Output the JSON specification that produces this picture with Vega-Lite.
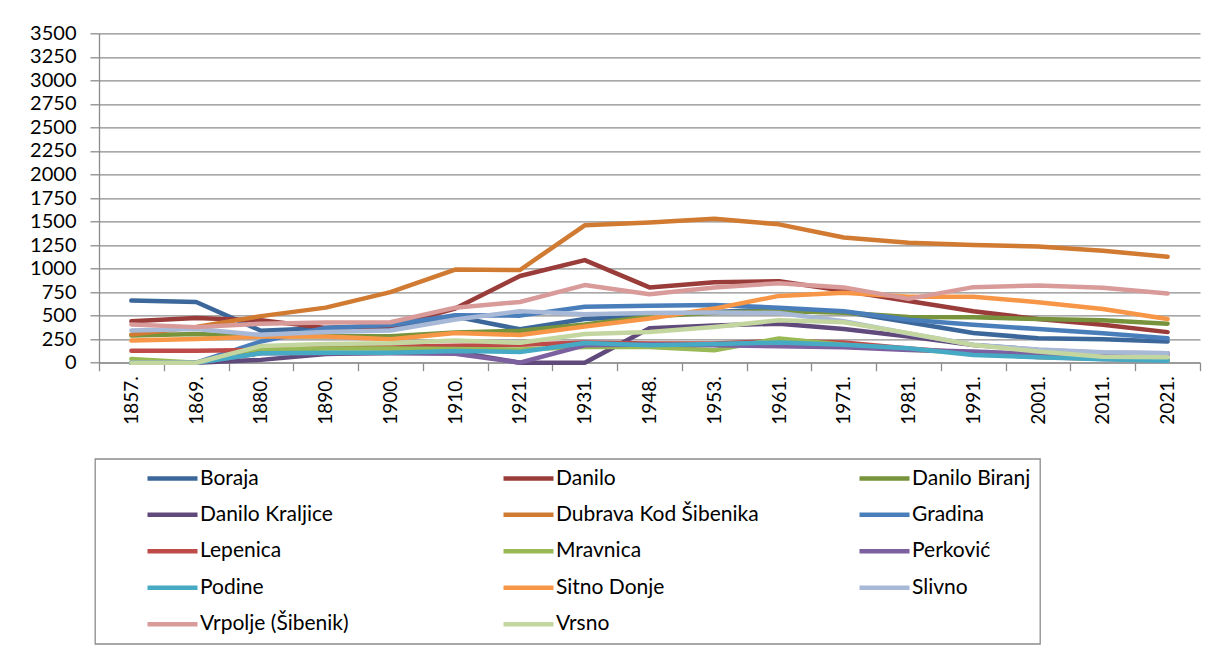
{
  "$schema": "https://vega.github.io/schema/vega-lite/v6.json",
  "width": 1101,
  "height": 329.4,
  "autosize": {"type": "none"},
  "padding": {"left": 99, "top": 33.3, "right": 24, "bottom": 285.3},
  "background": "white",
  "config": {"view": {"stroke": null}, "font": "Lato", "legend": {"strokeWidth": 1.3}},
  "datasets": {
    "pop": [
      {"s":"Boraja","t":"1857.","v":660},{"s":"Boraja","t":"1869.","v":645},{"s":"Boraja","t":"1880.","v":340},{"s":"Boraja","t":"1890.","v":370},{"s":"Boraja","t":"1900.","v":385},{"s":"Boraja","t":"1910.","v":490},{"s":"Boraja","t":"1921.","v":355},{"s":"Boraja","t":"1931.","v":465},{"s":"Boraja","t":"1948.","v":495},{"s":"Boraja","t":"1953.","v":540},{"s":"Boraja","t":"1961.","v":565},{"s":"Boraja","t":"1971.","v":540},{"s":"Boraja","t":"1981.","v":430},{"s":"Boraja","t":"1991.","v":315},{"s":"Boraja","t":"2001.","v":260},{"s":"Boraja","t":"2011.","v":250},{"s":"Boraja","t":"2021.","v":225},
      {"s":"Danilo","t":"1857.","v":440},{"s":"Danilo","t":"1869.","v":475},{"s":"Danilo","t":"1880.","v":450},{"s":"Danilo","t":"1890.","v":370},{"s":"Danilo","t":"1900.","v":390},{"s":"Danilo","t":"1910.","v":575},{"s":"Danilo","t":"1921.","v":921},{"s":"Danilo","t":"1931.","v":1090},{"s":"Danilo","t":"1948.","v":800},{"s":"Danilo","t":"1953.","v":855},{"s":"Danilo","t":"1961.","v":865},{"s":"Danilo","t":"1971.","v":765},{"s":"Danilo","t":"1981.","v":655},{"s":"Danilo","t":"1991.","v":546},{"s":"Danilo","t":"2001.","v":464},{"s":"Danilo","t":"2011.","v":403},{"s":"Danilo","t":"2021.","v":325},
      {"s":"Danilo Biranj","t":"1857.","v":290},{"s":"Danilo Biranj","t":"1869.","v":305},{"s":"Danilo Biranj","t":"1880.","v":280},{"s":"Danilo Biranj","t":"1890.","v":280},{"s":"Danilo Biranj","t":"1900.","v":280},{"s":"Danilo Biranj","t":"1910.","v":320},{"s":"Danilo Biranj","t":"1921.","v":340},{"s":"Danilo Biranj","t":"1931.","v":405},{"s":"Danilo Biranj","t":"1948.","v":490},{"s":"Danilo Biranj","t":"1953.","v":530},{"s":"Danilo Biranj","t":"1961.","v":550},{"s":"Danilo Biranj","t":"1971.","v":530},{"s":"Danilo Biranj","t":"1981.","v":486},{"s":"Danilo Biranj","t":"1991.","v":482},{"s":"Danilo Biranj","t":"2001.","v":464},{"s":"Danilo Biranj","t":"2011.","v":450},{"s":"Danilo Biranj","t":"2021.","v":414},
      {"s":"Danilo Kraljice","t":"1857.","v":0},{"s":"Danilo Kraljice","t":"1869.","v":0},{"s":"Danilo Kraljice","t":"1880.","v":30},{"s":"Danilo Kraljice","t":"1890.","v":93},{"s":"Danilo Kraljice","t":"1900.","v":107},{"s":"Danilo Kraljice","t":"1910.","v":118},{"s":"Danilo Kraljice","t":"1921.","v":0},{"s":"Danilo Kraljice","t":"1931.","v":0},{"s":"Danilo Kraljice","t":"1948.","v":365},{"s":"Danilo Kraljice","t":"1953.","v":395},{"s":"Danilo Kraljice","t":"1961.","v":415},{"s":"Danilo Kraljice","t":"1971.","v":357},{"s":"Danilo Kraljice","t":"1981.","v":278},{"s":"Danilo Kraljice","t":"1991.","v":189},{"s":"Danilo Kraljice","t":"2001.","v":136},{"s":"Danilo Kraljice","t":"2011.","v":107},{"s":"Danilo Kraljice","t":"2021.","v":100},
      {"s":"Dubrava Kod Šibenika","t":"1857.","v":300},{"s":"Dubrava Kod Šibenika","t":"1869.","v":380},{"s":"Dubrava Kod Šibenika","t":"1880.","v":495},{"s":"Dubrava Kod Šibenika","t":"1890.","v":585},{"s":"Dubrava Kod Šibenika","t":"1900.","v":750},{"s":"Dubrava Kod Šibenika","t":"1910.","v":990},{"s":"Dubrava Kod Šibenika","t":"1921.","v":985},{"s":"Dubrava Kod Šibenika","t":"1931.","v":1460},{"s":"Dubrava Kod Šibenika","t":"1948.","v":1490},{"s":"Dubrava Kod Šibenika","t":"1953.","v":1530},{"s":"Dubrava Kod Šibenika","t":"1961.","v":1470},{"s":"Dubrava Kod Šibenika","t":"1971.","v":1330},{"s":"Dubrava Kod Šibenika","t":"1981.","v":1275},{"s":"Dubrava Kod Šibenika","t":"1991.","v":1250},{"s":"Dubrava Kod Šibenika","t":"2001.","v":1235},{"s":"Dubrava Kod Šibenika","t":"2011.","v":1190},{"s":"Dubrava Kod Šibenika","t":"2021.","v":1125},
      {"s":"Gradina","t":"1857.","v":0},{"s":"Gradina","t":"1869.","v":0},{"s":"Gradina","t":"1880.","v":225},{"s":"Gradina","t":"1890.","v":370},{"s":"Gradina","t":"1900.","v":400},{"s":"Gradina","t":"1910.","v":505},{"s":"Gradina","t":"1921.","v":500},{"s":"Gradina","t":"1931.","v":595},{"s":"Gradina","t":"1948.","v":605},{"s":"Gradina","t":"1953.","v":612},{"s":"Gradina","t":"1961.","v":585},{"s":"Gradina","t":"1971.","v":546},{"s":"Gradina","t":"1981.","v":457},{"s":"Gradina","t":"1991.","v":403},{"s":"Gradina","t":"2001.","v":357},{"s":"Gradina","t":"2011.","v":314},{"s":"Gradina","t":"2021.","v":261},
      {"s":"Lepenica","t":"1857.","v":128},{"s":"Lepenica","t":"1869.","v":128},{"s":"Lepenica","t":"1880.","v":136},{"s":"Lepenica","t":"1890.","v":164},{"s":"Lepenica","t":"1900.","v":170},{"s":"Lepenica","t":"1910.","v":180},{"s":"Lepenica","t":"1921.","v":190},{"s":"Lepenica","t":"1931.","v":215},{"s":"Lepenica","t":"1948.","v":205},{"s":"Lepenica","t":"1953.","v":205},{"s":"Lepenica","t":"1961.","v":230},{"s":"Lepenica","t":"1971.","v":215},{"s":"Lepenica","t":"1981.","v":150},{"s":"Lepenica","t":"1991.","v":100},{"s":"Lepenica","t":"2001.","v":60},{"s":"Lepenica","t":"2011.","v":40},{"s":"Lepenica","t":"2021.","v":30},
      {"s":"Mravnica","t":"1857.","v":40},{"s":"Mravnica","t":"1869.","v":0},{"s":"Mravnica","t":"1880.","v":136},{"s":"Mravnica","t":"1890.","v":150},{"s":"Mravnica","t":"1900.","v":150},{"s":"Mravnica","t":"1910.","v":145},{"s":"Mravnica","t":"1921.","v":139},{"s":"Mravnica","t":"1931.","v":168},{"s":"Mravnica","t":"1948.","v":168},{"s":"Mravnica","t":"1953.","v":132},{"s":"Mravnica","t":"1961.","v":257},{"s":"Mravnica","t":"1971.","v":190},{"s":"Mravnica","t":"1981.","v":140},{"s":"Mravnica","t":"1991.","v":100},{"s":"Mravnica","t":"2001.","v":60},{"s":"Mravnica","t":"2011.","v":45},{"s":"Mravnica","t":"2021.","v":35},
      {"s":"Perković","t":"1857.","v":0},{"s":"Perković","t":"1869.","v":0},{"s":"Perković","t":"1880.","v":100},{"s":"Perković","t":"1890.","v":100},{"s":"Perković","t":"1900.","v":100},{"s":"Perković","t":"1910.","v":96},{"s":"Perković","t":"1921.","v":0},{"s":"Perković","t":"1931.","v":185},{"s":"Perković","t":"1948.","v":193},{"s":"Perković","t":"1953.","v":186},{"s":"Perković","t":"1961.","v":175},{"s":"Perković","t":"1971.","v":164},{"s":"Perković","t":"1981.","v":136},{"s":"Perković","t":"1991.","v":118},{"s":"Perković","t":"2001.","v":93},{"s":"Perković","t":"2011.","v":85},{"s":"Perković","t":"2021.","v":85},
      {"s":"Podine","t":"1857.","v":0},{"s":"Podine","t":"1869.","v":0},{"s":"Podine","t":"1880.","v":100},{"s":"Podine","t":"1890.","v":107},{"s":"Podine","t":"1900.","v":107},{"s":"Podine","t":"1910.","v":125},{"s":"Podine","t":"1921.","v":114},{"s":"Podine","t":"1931.","v":210},{"s":"Podine","t":"1948.","v":186},{"s":"Podine","t":"1953.","v":200},{"s":"Podine","t":"1961.","v":214},{"s":"Podine","t":"1971.","v":190},{"s":"Podine","t":"1981.","v":154},{"s":"Podine","t":"1991.","v":82},{"s":"Podine","t":"2001.","v":57},{"s":"Podine","t":"2011.","v":36},{"s":"Podine","t":"2021.","v":21},
      {"s":"Sitno Donje","t":"1857.","v":236},{"s":"Sitno Donje","t":"1869.","v":253},{"s":"Sitno Donje","t":"1880.","v":278},{"s":"Sitno Donje","t":"1890.","v":278},{"s":"Sitno Donje","t":"1900.","v":250},{"s":"Sitno Donje","t":"1910.","v":315},{"s":"Sitno Donje","t":"1921.","v":295},{"s":"Sitno Donje","t":"1931.","v":385},{"s":"Sitno Donje","t":"1948.","v":470},{"s":"Sitno Donje","t":"1953.","v":575},{"s":"Sitno Donje","t":"1961.","v":710},{"s":"Sitno Donje","t":"1971.","v":743},{"s":"Sitno Donje","t":"1981.","v":700},{"s":"Sitno Donje","t":"1991.","v":700},{"s":"Sitno Donje","t":"2001.","v":643},{"s":"Sitno Donje","t":"2011.","v":571},{"s":"Sitno Donje","t":"2021.","v":464},
      {"s":"Slivno","t":"1857.","v":343},{"s":"Slivno","t":"1869.","v":357},{"s":"Slivno","t":"1880.","v":296},{"s":"Slivno","t":"1890.","v":325},{"s":"Slivno","t":"1900.","v":343},{"s":"Slivno","t":"1910.","v":460},{"s":"Slivno","t":"1921.","v":548},{"s":"Slivno","t":"1931.","v":515},{"s":"Slivno","t":"1948.","v":528},{"s":"Slivno","t":"1953.","v":534},{"s":"Slivno","t":"1961.","v":528},{"s":"Slivno","t":"1971.","v":440},{"s":"Slivno","t":"1981.","v":310},{"s":"Slivno","t":"1991.","v":190},{"s":"Slivno","t":"2001.","v":140},{"s":"Slivno","t":"2011.","v":110},{"s":"Slivno","t":"2021.","v":100},
      {"s":"Vrpolje (Šibenik)","t":"1857.","v":407},{"s":"Vrpolje (Šibenik)","t":"1869.","v":378},{"s":"Vrpolje (Šibenik)","t":"1880.","v":414},{"s":"Vrpolje (Šibenik)","t":"1890.","v":428},{"s":"Vrpolje (Šibenik)","t":"1900.","v":430},{"s":"Vrpolje (Šibenik)","t":"1910.","v":585},{"s":"Vrpolje (Šibenik)","t":"1921.","v":645},{"s":"Vrpolje (Šibenik)","t":"1931.","v":825},{"s":"Vrpolje (Šibenik)","t":"1948.","v":728},{"s":"Vrpolje (Šibenik)","t":"1953.","v":800},{"s":"Vrpolje (Šibenik)","t":"1961.","v":845},{"s":"Vrpolje (Šibenik)","t":"1971.","v":800},{"s":"Vrpolje (Šibenik)","t":"1981.","v":678},{"s":"Vrpolje (Šibenik)","t":"1991.","v":803},{"s":"Vrpolje (Šibenik)","t":"2001.","v":821},{"s":"Vrpolje (Šibenik)","t":"2011.","v":796},{"s":"Vrpolje (Šibenik)","t":"2021.","v":735},
      {"s":"Vrsno","t":"1857.","v":0},{"s":"Vrsno","t":"1869.","v":0},{"s":"Vrsno","t":"1880.","v":178},{"s":"Vrsno","t":"1890.","v":200},{"s":"Vrsno","t":"1900.","v":207},{"s":"Vrsno","t":"1910.","v":236},{"s":"Vrsno","t":"1921.","v":211},{"s":"Vrsno","t":"1931.","v":305},{"s":"Vrsno","t":"1948.","v":325},{"s":"Vrsno","t":"1953.","v":380},{"s":"Vrsno","t":"1961.","v":450},{"s":"Vrsno","t":"1971.","v":430},{"s":"Vrsno","t":"1981.","v":314},{"s":"Vrsno","t":"1991.","v":189},{"s":"Vrsno","t":"2001.","v":118},{"s":"Vrsno","t":"2011.","v":64},{"s":"Vrsno","t":"2021.","v":57}
    ]
  },
  "data": {"name": "pop"},
  "mark": {"type": "line", "strokeWidth": 4.5, "strokeCap": "round", "strokeJoin": "round"},
  "encoding": {
    "x": {
      "field": "t", "type": "ordinal", "sort": null,
      "scale": {"type": "band", "paddingInner": 0, "paddingOuter": 0},
      "axis": {"title": null, "labelAngle": -90, "labelAlign": "right", "labelBaseline": "middle", "tickBand": "extent", "domainColor": "#8c8c8c", "domainWidth": 1.3, "tickColor": "#8c8c8c", "tickWidth": 1.3, "tickSize": 8, "labelFontSize": 19, "labelColor": "#000000", "labelPadding": 5, "grid": false}
    },
    "y": {
      "field": "v", "type": "quantitative",
      "scale": {"domain": [0, 3500], "nice": false, "zero": true},
      "axis": {"title": null, "format": "d", "values": [0,250,500,750,1000,1250,1500,1750,2000,2250,2500,2750,3000,3250,3500], "grid": true, "gridColor": "#8c8c8c", "gridWidth": 1.3, "domainColor": "#8c8c8c", "domainWidth": 1.3, "tickColor": "#8c8c8c", "tickWidth": 1.3, "tickSize": 9, "labelFontSize": 20, "labelColor": "#000000", "labelPadding": 14}
    },
    "color": {
      "field": "s", "type": "nominal",
      "scale": {
        "domain": ["Boraja","Danilo","Danilo Biranj","Danilo Kraljice","Dubrava Kod Šibenika","Gradina","Lepenica","Mravnica","Perković","Podine","Sitno Donje","Slivno","Vrpolje (Šibenik)","Vrsno"],
        "range": ["#3c679a","#993c3a","#77933c","#604a7b","#d07a32","#4a7ebb","#be4b48","#98b954","#7d60a0","#46aac5","#f79646","#a7b9d7","#d99b9a","#c4d6a0"]
      },
      "legend": {"title": null, "orient": "none", "legendX": -4, "legendY": 425.5, "direction": "horizontal", "columns": 3, "gridAlign": "all", "columnPadding": 57, "rowPadding": 14.5, "symbolType": "M-5,0L5,0", "symbolSize": 100, "symbolStrokeWidth": 4.5, "symbolFillColor": "transparent", "symbolOffset": 58, "labelFontSize": 21, "labelColor": "#000000", "labelOffset": 17, "labelLimit": 400, "padding": 9, "strokeColor": "#8c8c8c"}
    }
  }
}
